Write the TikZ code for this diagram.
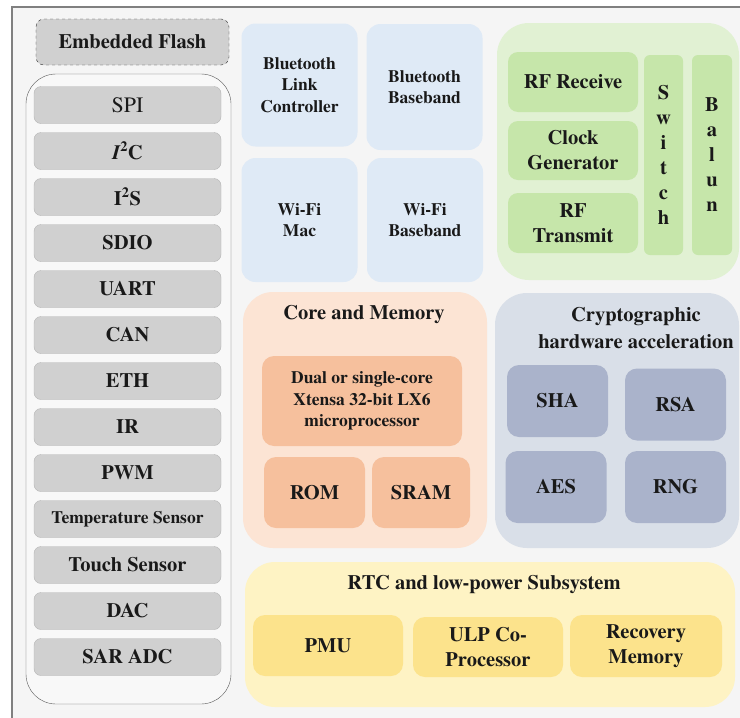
\documentclass[tikz,border=0pt]{standalone}
\usepackage{fontspec}
\IfFontExistsTF{texgyretermes-regular.otf}{%
  \setmainfont{texgyretermes}[Extension=.otf, UprightFont=*-regular, BoldFont=*-bold, ItalicFont=*-italic, BoldItalicFont=*-bolditalic]}{}
\usepackage{tikz}
\usetikzlibrary{positioning}

\definecolor{pagebg}{HTML}{F5F5F5}
\definecolor{frameline}{HTML}{808080}
\definecolor{periphfill}{HTML}{D0D0D0}
\definecolor{periphline}{HTML}{B4B4B4}
\definecolor{listline}{HTML}{5A5A5A}
\definecolor{listfill}{HTML}{F8F8F8}
\definecolor{bluefill}{HTML}{DFEAF6}
\definecolor{greenouter}{HTML}{E1F1D3}
\definecolor{greeninner}{HTML}{C6E6AA}
\definecolor{peachouter}{HTML}{FCE4D4}
\definecolor{peachinner}{HTML}{F6C09D}
\definecolor{cryptouter}{HTML}{D9DFE8}
\definecolor{cryptinner}{HTML}{AAB3CB}
\definecolor{rtcouter}{HTML}{FEF3C4}
\definecolor{rtcinner}{HTML}{FCE38C}

\newcommand{\bigfont}{\fontsize{20.5}{25}\selectfont}
\newcommand{\smallfont}{\fontsize{17.5}{21.5}\selectfont}

\begin{document}
\begin{tikzpicture}[
    x=1pt, y=-1pt,
    node distance=8.6pt,
    every node/.style={font=\bfseries\bigfont, text=black!90, align=center, inner sep=0pt},
    periphbox/.style={rectangle, draw=periphline, fill=periphfill, rounded corners=7pt, minimum width=187pt, minimum height=37pt},
    bluebox/.style={rectangle, fill=bluefill, rounded corners=14pt, minimum width=116pt, font=\bfseries\smallfont},
    groupbox/.style={rectangle, rounded corners=30pt},
    rfbox/.style={rectangle, fill=greeninner, rounded corners=10pt, minimum width=130pt},
    corebox/.style={rectangle, fill=peachinner, rounded corners=12pt},
    cryptobox/.style={rectangle, fill=cryptinner, rounded corners=12pt, minimum width=101pt, minimum height=72pt},
    rtcbox/.style={rectangle, fill=rtcinner, rounded corners=12pt, minimum width=150pt, minimum height=61pt}
]
    \useasboundingbox (0,0) rectangle (740,718);
    \clip (0,0) rectangle (740,718);
    \fill[pagebg] (12,7) rectangle (745,725);
    \draw[frameline, line width=1.5pt] (12,725) -- (12,7) -- (745,7);

    % peripherals
    \node[rectangle, draw=black!80, dashed, fill=periphfill, rounded corners=8pt, minimum width=193pt, minimum height=46pt] (flash) at (132.5,42) {Embedded Flash};
    \node[rectangle, draw=listline, fill=listfill, rounded corners=30pt, minimum width=205pt, minimum height=630pt] (periphs) at (128.5,389) {};

    \node[periphbox, font=\fontsize{22}{25}\selectfont] (spi) at (127.5,105) {SPI};
    \node[periphbox, below=of spi] (iic) {{\itshape I}\textsuperscript{2}C};
    \node[periphbox, below=of iic] (iis) {I\textsuperscript{2}S};
    \node[periphbox, below=of iis] (sdio) {SDIO};
    \node[periphbox, below=of sdio] (uart) {UART};
    \node[periphbox, below=of uart] (can) {CAN};
    \node[periphbox, below=of can] (eth) {ETH};
    \node[periphbox, below=of eth] (ir) {IR};
    \node[periphbox, below=of ir] (pwm) {PWM};
    \node[periphbox, below=of pwm, font=\bfseries\smallfont] (temp) {Temperature Sensor};
    \node[periphbox, below=of temp] (touch) {Touch Sensor};
    \node[periphbox, below=of touch] (dac) {DAC};
    \node[periphbox, below=of dac] (saradc) {SAR ADC};

    % wireless
    \node[bluebox, minimum height=123pt] (btlink) at (299.5,85) {Bluetooth\\Link\\Controller};
    \node[bluebox, minimum height=126pt] (btbase) at (424.5,87) {Bluetooth\\Baseband};
    \node[bluebox, minimum height=124pt] (wifimac) at (299.5,220) {Wi-Fi\\Mac};
    \node[bluebox, minimum height=124pt] (wifibase) at (425,220) {Wi-Fi\\Baseband};

    \node[groupbox, fill=greenouter, rounded corners=32pt, minimum width=242pt, minimum height=257pt] (rf) at (618,151.5) {};
    \node[rfbox, minimum height=60pt] (rfrx) at (573,82) {RF Receive};
    \node[rfbox, minimum height=59pt] (clkgen) at (573,150.5) {Clock\\Generator};
    \node[rfbox, minimum height=60pt] (rftx) at (573,223) {RF\\Transmit};
    \node[rectangle, fill=greeninner, rounded corners=6pt, minimum width=39pt, minimum height=200pt] (switch) at (663.5,155) {S\\w\\i\\t\\c\\h};
    \node[rectangle, fill=greeninner, rounded corners=6pt, minimum width=40pt, minimum height=200pt] (balun) at (712,155) {B\\a\\l\\u\\n};

    % core and memory
    \node[groupbox, fill=peachouter, minimum width=244pt, minimum height=256pt] (core) at (365,420) {};
    \node (coretitle) at (364,315) {Core and Memory};
    \node[corebox, minimum width=200pt, minimum height=90pt, font=\bfseries\smallfont] (cpu) at (362,401) {Dual or single-core\\Xtensa 32-bit LX6\\microprocessor};
    \node[corebox, minimum width=101pt, minimum height=71pt] (rom) at (314.5,492.5) {ROM};
    \node[corebox, minimum width=98pt, minimum height=71pt] (sram) at (421,492.5) {SRAM};

    % crypto
    \node[groupbox, fill=cryptouter, rounded corners=32pt, minimum width=244pt, minimum height=255pt] (crypto) at (617,420.5) {};
    \node[font=\bfseries\fontsize{20.5}{27}\selectfont] (cryptotitle) at (636,328.5) {Cryptographic\\hardware acceleration};
    \node[cryptobox] (sha) at (557.5,401) {SHA};
    \node[cryptobox] (rsa) at (675.5,404.5) {RSA};
    \node[cryptobox] (aes) at (556,487) {AES};
    \node[cryptobox] (rng) at (675.5,487) {RNG};

    % rtc
    \node[groupbox, fill=rtcouter, minimum width=490pt, minimum height=145pt] (rtc) at (490,634.5) {};
    \node (rtctitle) at (484,585) {RTC and low-power Subsystem};
    \node[rtcbox] (pmu) at (328,645.5) {PMU};
    \node[rtcbox, minimum height=60pt] (ulp) at (488,647) {ULP Co-\\Processor};
    \node[rtcbox, minimum width=152pt, minimum height=62pt] (recovery) at (646,646) {Recovery\\Memory};
\end{tikzpicture}
\end{document}
